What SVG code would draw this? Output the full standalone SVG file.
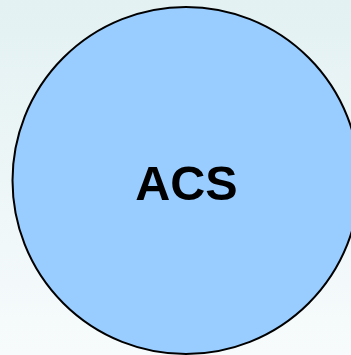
<svg xmlns="http://www.w3.org/2000/svg" width="351" height="355" viewBox="0 0 351 355">
<defs>
<linearGradient id="bg" x1="0" y1="0" x2="0" y2="1">
<stop offset="0" stop-color="#e3f1f2"/>
<stop offset="1" stop-color="#f7fbfc"/>
</linearGradient>
<style>
.node{fill:#99ccff;stroke:#000;stroke-width:2}
.lbl{font-family:"Liberation Sans",Arial,sans-serif;font-weight:bold;font-size:48.5px;fill:#000;text-anchor:middle}
</style>
</defs>
<rect width="351" height="355" fill="url(#bg)"/>
<g id="connectors"/>
<g id="acs">
<circle class="node" cx="186" cy="180.5" r="173.5"/>
<text class="lbl" x="186.5" y="200">ACS</text>
</g>
</svg>
